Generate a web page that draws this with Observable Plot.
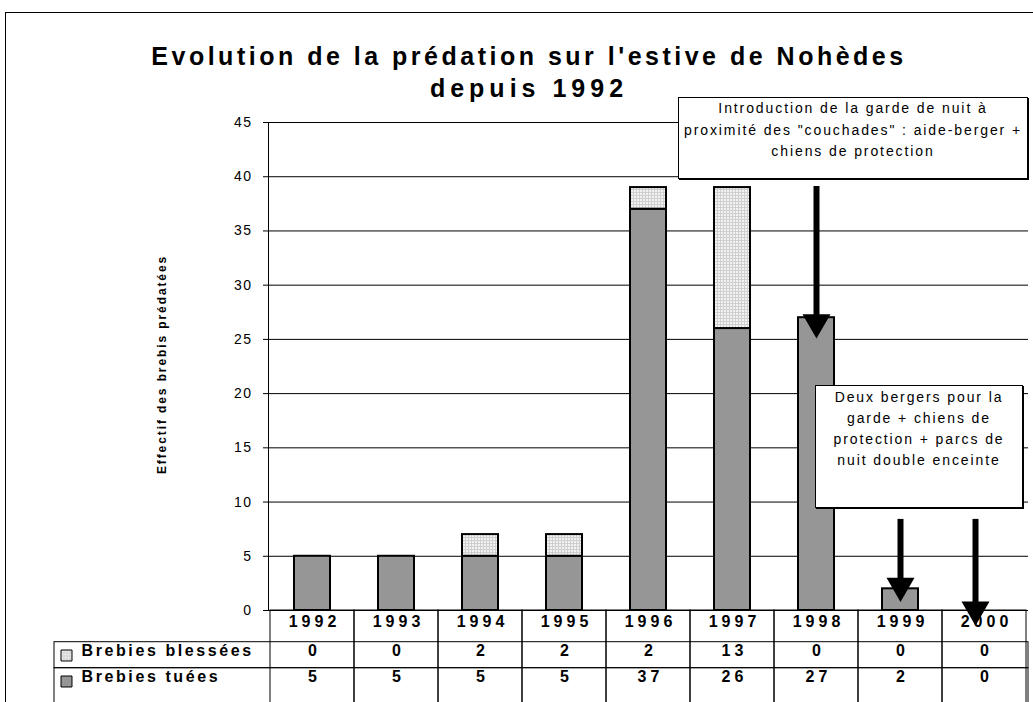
<!DOCTYPE html>
<html><head><meta charset="utf-8">
<script src="https://cdn.jsdelivr.net/npm/d3@7"></script>
<script src="https://cdn.jsdelivr.net/npm/@observablehq/plot@0.6"></script>
<style>
body{margin:0;background:#fff;}
#wrap{position:relative;width:1033px;height:702px;overflow:hidden;font-family:"Liberation Sans",Arial,sans-serif;color:#000;background:#fff;}
#frame{position:absolute;left:5px;top:12px;width:1100px;height:800px;border:1px solid #000;}
#chart{position:absolute;left:0;top:0;}
#chart svg{display:block;}
#title{position:absolute;left:0;width:1058px;top:40px;text-align:center;font-weight:bold;font-size:25px;letter-spacing:3.5px;line-height:32px;}
#title div + div{letter-spacing:5px;}
.note{position:absolute;background:#fff;border:1px solid #000;box-shadow:1px 1px 0 #000;text-align:center;font-size:14px;letter-spacing:1.9px;box-sizing:border-box;}
#note1{left:678px;top:97px;width:350px;height:82px;line-height:21.5px;padding-top:0px;}
#note2{left:815px;top:385px;width:208px;height:123px;line-height:21px;padding-top:1px;}
g[aria-description="ticks"] text{letter-spacing:1.5px;}
g[aria-description="ylabel"] text{letter-spacing:1.9px;}
g[aria-description="table"] text{letter-spacing:4px;}
g[aria-description="legend"] text{letter-spacing:2.6px;}
</style></head>
<body>
<div id="wrap"><div id="frame"></div><div id="chart"></div><div id="title"></div><div id="note1" class="note"></div><div id="note2" class="note"></div></div>
<script>
const years = ["1992","1993","1994","1995","1996","1997","1998","1999","2000"];
const blessees = [0,0,2,2,2,13,0,0,0];
const tuees = [5,5,5,5,37,26,27,2,0];
const seriesNames = ["Brebies tuées","Brebies blessées"];
const yTicks = [0,5,10,15,20,25,30,35,40,45];
const titleLines = ["Evolution de la prédation sur l'estive de Nohèdes","depuis 1992"];
const yLabel = ["Effectif des brebis prédatées"];
const note1 = ["Introduction de la garde de nuit à","proximité des \"couchades\" : aide-berger +","chiens de protection"];
const note2 = ["Deux bergers pour la","garde + chiens de","protection + parcs de","nuit double enceinte"];
const arrowYears = ["1998","1999","2000"];
const arrowFrom = [39.1, 8.4, 8.4];
const arrowTo = [25.1, 0.8, -1.4];

const stacked = [
  ...years.map((year,i)=>({year, series: seriesNames[0], value: tuees[i]})),
  ...years.map((year,i)=>({year, series: seriesNames[1], value: blessees[i]}))
];
const tableRows = years.map((year,i)=>({year, blessees: blessees[i], tuees: tuees[i]}));
const arrows = arrowYears.map((year,i)=>({year, from: arrowFrom[i], to: arrowTo[i]}));
const lastYear = years[years.length - 1];

const downTriangle = {draw(ctx, size){
  const y = Math.sqrt(size/(3*Math.sqrt(3)));
  ctx.moveTo(0, 2*y); ctx.lineTo(-Math.sqrt(3)*y, -y); ctx.lineTo(Math.sqrt(3)*y, -y); ctx.closePath();
}};
function arrowMarks(filter, dx) {
  return [
    Plot.ruleX(arrows, {filter, x: "year", y1: "from", y2: "to", stroke: "#000", strokeWidth: 6, insetBottom: 22, dx}),
    Plot.dot(arrows, {filter, x: "year", y: "to", symbol: downTriangle, r: 10.4, fill: "#000", stroke: "none", dy: -16, dx})
  ];
}

const font = "'Liberation Sans', Arial, sans-serif";
const chart = Plot.plot({
  width: 1033, height: 702,
  marginLeft: 268, marginRight: 5, marginTop: 122, marginBottom: 92,
  style: {fontFamily: font, fontSize: "14px", background: "transparent", overflow: "visible"},
  x: {type: "band", domain: years, padding: 0, axis: null},
  y: {domain: [0, 45]},
  color: {type: "ordinal", domain: seriesNames, range: ["#969696", "url(#dots)"]},
  marks: [
    Plot.ruleY(yTicks, {stroke: "#000", strokeWidth: 1, insetLeft: -5}),
    Plot.axisY({ticks: yTicks, tickSize: 0, tickPadding: 16, fontSize: 14, label: null, ariaDescription: "ticks"}),
    Plot.frame({anchor: "left", stroke: "#000"}),
    Plot.barY(stacked, {x: "year", y: "value", fill: "series", stroke: "#000", strokeWidth: 2, insetLeft: 24, insetRight: 24, filter: d => d.value > 0}),
    ...arrowMarks(d => d.year !== lastYear, 0),
    ...arrowMarks(d => d.year === lastYear, -9),
    Plot.text(yLabel, {text: d => d, frameAnchor: "left", textAnchor: "middle", rotate: -90, dx: -106, dy: -2, fontWeight: "bold", fontSize: 12, ariaDescription: "ylabel"}),
    // table grid
    Plot.barY(years, {x: d => d, y1: 0, y2: 0, insetBottom: -110, fill: "none", stroke: "#000", strokeWidth: 1}),
    Plot.rect([0], {y1: 0, y2: 0, insetTop: 31.7, insetBottom: -57.7, insetLeft: -214, fill: "none", stroke: "#000", strokeWidth: 1}),
    Plot.rect([0], {y1: 0, y2: 0, insetTop: 57.7, insetBottom: -110, insetLeft: -214, fill: "none", stroke: "#000", strokeWidth: 1}),
    // table text
    Plot.text(years, {x: d => d, text: d => d, frameAnchor: "bottom", dy: 16, dx: 2, fontWeight: "bold", fontSize: 16, ariaDescription: "table"}),
    Plot.text(tableRows, {x: "year", text: "blessees", frameAnchor: "bottom", dy: 45, dx: 2, fontWeight: "bold", fontSize: 16, ariaDescription: "table"}),
    Plot.text(tableRows, {x: "year", text: "tuees", frameAnchor: "bottom", dy: 71, dx: 2, fontWeight: "bold", fontSize: 16, ariaDescription: "table"}),
    // legend column
    Plot.dot([seriesNames[1]], {frameAnchor: "bottom-left", symbol: "square", r: 6.2, dx: -202, dy: 45, fill: "url(#dots)", stroke: "#000", strokeWidth: 1}),
    Plot.dot([seriesNames[0]], {frameAnchor: "bottom-left", symbol: "square", r: 6.2, dx: -202, dy: 71, fill: "#969696", stroke: "#000", strokeWidth: 1}),
    Plot.text([seriesNames[1]], {text: d => d, frameAnchor: "bottom-left", textAnchor: "start", dx: -187, dy: 45, fontWeight: "bold", fontSize: 16, ariaDescription: "legend"}),
    Plot.text([seriesNames[0]], {text: d => d, frameAnchor: "bottom-left", textAnchor: "start", dx: -187, dy: 71, fontWeight: "bold", fontSize: 16, ariaDescription: "legend"})
  ]
});

const defs = d3.select(chart).insert("defs", ":first-child");
const pat = defs.append("pattern").attr("id", "dots").attr("width", 3).attr("height", 3).attr("patternUnits", "userSpaceOnUse");
pat.append("rect").attr("width", 3).attr("height", 3).attr("fill", "#f2f2f2");
pat.append("rect").attr("width", 1).attr("height", 3).attr("fill", "#cfcfcf");
pat.append("rect").attr("width", 3).attr("height", 1).attr("fill", "#cfcfcf");

document.getElementById("chart").appendChild(chart);
document.getElementById("title").innerHTML = titleLines.map(t => `<div>${t}</div>`).join("");
document.getElementById("note1").innerHTML = note1.map(t => `<div>${t}</div>`).join("");
document.getElementById("note2").innerHTML = note2.map(t => `<div>${t}</div>`).join("");
</script>
</body></html>
